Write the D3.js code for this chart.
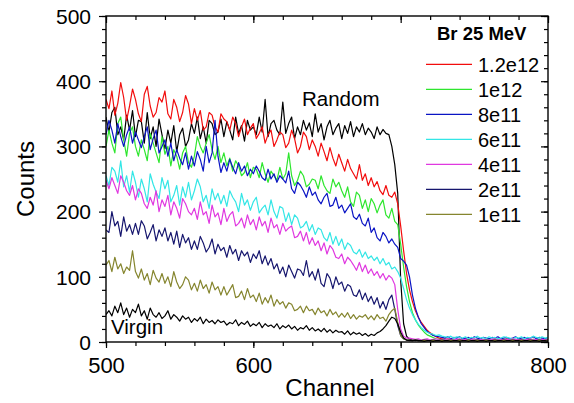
<!DOCTYPE html>
<html><head><meta charset="utf-8">
<script src="https://cdn.jsdelivr.net/npm/d3@7"></script>
<style>body{margin:0;background:#fff;} svg{display:block;font-family:"Liberation Sans",Arial,Helvetica,sans-serif;}</style>
</head><body><svg id="c" width="574" height="403"></svg>
<script>
const channels = d3.range(500, 801, 2);

const random = [345,322,352,360,318,330,310,348,325,355,
315,340,338,305,352,312,330,300,342,318,
296,325,305,332,292,318,328,300,310,335,
320,345,312,330,305,340,335,318,322,342,
315,338,325,310,345,320,332,308,340,325,
330,318,345,322,372,315,335,340,325,318,
368,320,335,345,312,330,318,340,325,336,
315,350,322,335,310,330,340,318,328,335,
312,332,320,338,315,330,322,335,318,328,
322,312,330,318,326,320,318,300,272,228,
95,28,9,4,3,2,3,2,2,3,
2,3,2,2,3,2,2,3,2,2,
3,2,2,3,2,2,3,2,2,3,
2,2,3,2,2,3,2,2,3,2,
2,3,2,2,3,2,2,3,2,2,3];

const s12e12 = [372,358,385,348,366,398,375,340,362,388,
372,350,338,380,392,362,345,352,375,368,
385,350,342,372,360,338,352,378,365,335,
358,340,355,325,330,352,348,330,322,350,
342,338,325,345,335,315,330,342,318,328,
335,312,320,330,305,318,325,300,310,322,
318,298,305,325,312,290,300,322,315,295,
310,300,285,305,292,278,298,282,270,288,
275,262,280,266,258,250,272,248,258,240,
252,238,246,232,226,240,225,222,230,212,
178,140,105,80,62,48,38,30,24,18,
14,11,8,6,5,4,5,3,4,3,
4,3,5,3,4,3,3,4,3,4,
3,4,3,3,4,3,5,3,4,3,
4,3,3,4,3,4,3,3,4,3,4];

const s1e12 = [300,325,305,290,335,345,310,285,320,330,
300,285,310,295,278,320,305,290,275,315,
288,300,270,295,285,265,290,300,275,268,
285,315,300,290,305,318,295,280,300,275,
290,270,282,262,278,270,255,260,275,252,
268,265,252,275,258,245,262,255,248,268,
250,258,290,255,240,248,262,255,238,242,
250,248,235,255,240,232,228,250,238,245,
232,222,238,215,208,230,225,205,218,200,
220,212,198,210,218,195,190,205,185,180,
150,115,85,62,45,34,26,20,15,11,
9,7,5,4,3,4,3,3,4,3,
3,4,3,3,4,3,3,4,3,3,
4,3,3,4,3,3,4,3,3,4,
3,3,4,3,3,4,3,3,4,3,3];

const s8e11 = [318,340,325,305,335,315,300,318,330,305,
322,310,298,315,330,295,312,325,290,300,
310,285,305,278,295,282,272,290,265,285,
270,292,280,262,300,275,290,340,285,260,
275,262,280,268,258,275,262,270,255,265,
258,270,262,252,248,265,250,258,245,255,
250,244,262,235,228,245,240,232,222,238,
225,230,218,212,222,228,208,210,222,205,
210,198,205,212,192,188,196,182,178,190,
168,175,160,155,168,162,152,158,150,145,
128,124,118,100,72,52,38,28,22,16,
13,10,9,8,7,6,8,5,7,6,
8,5,6,7,5,8,6,5,7,6,
5,7,6,8,5,6,7,5,6,8,
5,6,7,5,6,8,5,7,6,5,7];

const s6e11 = [255,240,268,262,245,278,238,255,230,262,
245,222,250,235,215,258,242,230,220,252,
235,248,215,225,240,210,238,222,245,218,
232,250,238,215,225,205,235,218,228,212,
225,208,232,222,215,200,228,210,218,202,
215,222,198,205,210,195,218,200,190,208,
205,185,198,180,195,190,175,178,185,170,
180,165,175,172,160,155,168,150,162,148,
158,142,152,148,138,135,142,130,138,128,
132,125,130,120,128,118,122,112,115,108,
98,82,65,52,42,34,27,22,18,15,
13,12,10,11,9,8,7,9,6,8,
7,6,8,5,7,6,9,6,7,5,
8,6,7,5,6,8,7,6,5,7,
6,8,5,7,6,9,7,6,8,6,7];

const s4e11 = [248,235,252,240,228,255,245,232,225,240,
218,235,228,212,205,222,210,232,200,218,
208,225,195,215,205,190,220,212,200,195,
205,188,215,195,200,182,210,192,198,180,
205,185,195,200,178,182,190,175,195,180,
188,172,192,178,185,168,190,175,180,165,
182,170,175,178,160,162,170,155,168,150,
160,148,155,140,152,135,148,142,130,128,
135,120,130,125,118,110,122,108,118,105,
112,102,108,98,105,95,102,98,88,50,
20,9,6,6,5,4,5,3,4,5,
3,4,5,3,4,3,5,4,3,4,
5,3,4,3,4,5,3,4,3,4,
3,4,5,3,4,3,4,3,5,4,
3,4,3,4,5,3,4,3,4,3,4];

const s2e11 = [172,168,200,178,185,162,192,170,180,165,
182,165,186,178,158,168,180,155,172,162,
175,155,168,150,170,145,165,152,160,142,
155,142,162,152,138,145,158,135,150,140,
145,130,148,135,142,125,140,132,138,122,
135,128,140,120,132,118,128,112,120,105,
115,100,118,108,98,112,110,102,125,100,
108,95,112,90,85,105,98,82,100,88,
92,78,88,85,72,70,80,65,75,62,
70,58,68,52,62,50,65,72,50,25,
10,5,3,3,2,3,2,2,3,2,
2,3,2,2,3,2,2,3,2,2,
3,2,2,3,2,2,3,2,2,3,
2,2,3,2,2,3,2,2,3,2,
2,3,2,2,3,2,2,3,2,2,3];

const s1e11 = [118,125,108,130,112,120,105,115,110,140,
108,98,112,95,105,88,110,98,92,105,
90,100,85,108,92,82,88,100,95,80,
90,78,95,82,88,75,92,80,85,72,
85,72,80,88,68,70,78,65,82,68,
72,62,75,58,68,60,72,55,65,58,
62,52,60,58,48,50,55,45,55,48,
50,42,52,45,48,40,50,42,46,38,
44,38,45,36,42,35,40,38,42,35,
40,34,42,36,38,32,42,48,52,30,
10,5,3,3,2,3,2,2,3,2,
2,3,2,2,3,2,2,3,2,2,
3,2,2,3,2,2,3,2,2,3,
2,2,3,2,2,3,2,2,3,2,
2,3,2,2,3,2,2,3,2,2,3];

const virgin = [42,48,40,55,45,60,42,52,38,50,
45,58,40,48,35,52,42,38,45,36,
40,48,35,42,38,32,40,35,38,30,
36,32,38,28,35,30,33,28,34,30,
32,26,30,28,34,25,30,27,32,24,
28,25,30,22,28,24,26,22,28,20,
25,22,26,20,24,18,22,20,25,18,
22,17,20,16,21,15,19,14,18,15,
16,12,17,11,15,12,14,10,13,9,
12,10,14,16,20,25,32,38,36,28,
15,6,3,2,2,3,2,2,1,2,
2,1,2,2,1,2,2,1,2,2,
1,2,2,1,2,2,1,2,2,1,
2,2,1,2,2,1,2,2,1,2,
2,1,2,2,1,2,2,1,2,2,1];

const legendTitle = "Br 25 MeV";
const seriesNames = ["1.2e12","1e12","8e11","6e11","4e11","2e11","1e11"];
const seriesColors = ["#f20d0d","#2ee62e","#0a14c4","#33e6e6","#e038e0","#16166e","#85852e"];
const seriesData = [s12e12, s1e12, s8e11, s6e11, s4e11, s2e11, s1e11];
const xTicks = [500,600,700,800];
const yTicks = [0,100,200,300,400,500];
const xMinor = d3.range(500, 801, 20);
const yMinor = d3.range(0, 501, 20);

const L = 106, R = 548, T = 16, B = 342;
const svg = d3.select("#c");
const x = d3.scaleLinear().domain([500,800]).range([L,R]);
const y = d3.scaleLinear().domain([0,500]).range([B,T]);

svg.append("defs").append("clipPath").attr("id","clip")
  .append("rect").attr("x",L).attr("y",T).attr("width",R-L).attr("height",B-T);

const line = d3.line().x((d,i)=>x(channels[i])).y(d=>y(d));
const plot = svg.append("g").attr("clip-path","url(#clip)");
function drawLine(data,color){
  plot.append("path").datum(data).attr("d",line)
    .attr("fill","none").attr("stroke",color).attr("stroke-width",1.2)
    .attr("stroke-linejoin","round");
}
drawLine(random,"#000");
seriesData.forEach((d,i)=>drawLine(d,seriesColors[i]));
drawLine(virgin,"#000");

function styleAxis(g){
  g.select(".domain").remove();
  g.selectAll("line").attr("stroke","#000").attr("stroke-width",1.2);
}
// bottom
svg.append("g").attr("transform",`translate(0,${B})`)
  .call(d3.axisBottom(x).tickValues(xMinor).tickSize(4).tickFormat("")).call(styleAxis);
const xa = svg.append("g").attr("transform",`translate(0,${B})`)
  .call(d3.axisBottom(x).tickValues(xTicks).tickSize(6).tickFormat(d3.format("d"))).call(styleAxis);
xa.selectAll("text").attr("y",31).attr("dy",null).attr("font-size",22)
  .attr("fill","#000").style("font-family","'Liberation Sans',Arial,sans-serif");
// left
svg.append("g").attr("transform",`translate(${L},0)`)
  .call(d3.axisLeft(y).tickValues(yMinor).tickSize(4).tickFormat("")).call(styleAxis);
const ya = svg.append("g").attr("transform",`translate(${L},0)`)
  .call(d3.axisLeft(y).tickValues(yTicks).tickSize(7).tickFormat(d3.format("d"))).call(styleAxis);
ya.selectAll("text").attr("x",-15).attr("dy","0.35em").attr("font-size",21)
  .attr("fill","#000").style("font-family","'Liberation Sans',Arial,sans-serif");
// top (inward)
svg.append("g").attr("transform",`translate(0,${T})`)
  .call(d3.axisBottom(x).tickValues(xMinor).tickSize(4).tickFormat("")).call(styleAxis);
svg.append("g").attr("transform",`translate(0,${T})`)
  .call(d3.axisBottom(x).tickValues(xTicks).tickSize(7).tickFormat("")).call(styleAxis);
// right (inward)
svg.append("g").attr("transform",`translate(${R},0)`)
  .call(d3.axisLeft(y).tickValues(yMinor).tickSize(4).tickFormat("")).call(styleAxis);
svg.append("g").attr("transform",`translate(${R},0)`)
  .call(d3.axisLeft(y).tickValues(yTicks).tickSize(7).tickFormat("")).call(styleAxis);

svg.append("rect").attr("x",L).attr("y",T).attr("width",R-L).attr("height",B-T)
  .attr("fill","none").attr("stroke","#000").attr("stroke-width",1.4);

// axis titles
svg.append("text").attr("x",330).attr("y",396).attr("text-anchor","middle")
  .attr("font-size",24).text("Channel");
svg.append("text").attr("transform",`translate(34,${(T+B)/2}) rotate(-90)`)
  .attr("text-anchor","middle").attr("font-size",24).text("Counts");

// annotations
svg.append("text").attr("x",302).attr("y",106).attr("font-size",20.5).text("Random");
svg.append("text").attr("x",111).attr("y",334).attr("font-size",20.5).text("Virgin");

// legend
svg.append("text").attr("x",437).attr("y",40).attr("font-size",18.5)
  .attr("font-weight","bold").text(legendTitle);
const lg = svg.append("g");
seriesNames.forEach((n,i)=>{
  const yy = 64.3 + i*25;
  lg.append("line").attr("x1",426).attr("x2",472).attr("y1",yy).attr("y2",yy)
    .attr("stroke",seriesColors[i]).attr("stroke-width",1.3);
  lg.append("text").attr("x",478).attr("y",yy+7.5).attr("font-size",20).text(n);
});
</script></body></html>
